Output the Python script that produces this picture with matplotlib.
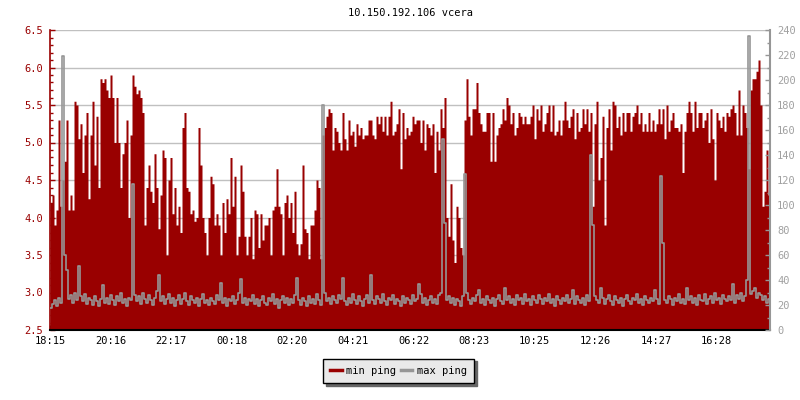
import matplotlib.pyplot as plt
import numpy as np
from matplotlib.lines import Line2D
from matplotlib.ticker import MultipleLocator

plt.rcParams['font.family'] = 'DejaVu Sans Mono'
plt.rcParams['font.size'] = 7.5

title = "10.150.192.106 vcera"
step_minutes = 4          # one sample every 4 minutes, 24 h total
tick_step = 121.2         # minutes between time labels
time_labels = ["18:15", "20:16", "22:17", "00:18", "02:20", "04:21",
               "06:22", "08:23", "10:25", "12:26", "14:27", "16:28"]

# min ping, left axis (ms)
min_ping = [
    4.2, 4.3, 3.9, 4.1, 5.3, 4.15, 4.5, 4.75, 5.3, 4.1, 4.3, 4.1, 5.55, 5.5, 5.05, 5.25, 4.6, 5.1, 5.4, 4.25,
    5.1, 5.55, 4.7, 5.35, 4.4, 5.85, 5.8, 5.85, 5.7, 5.6, 5.9, 5.6, 5.0, 5.6, 5.0, 4.4, 4.85, 5.0, 5.3, 4.0,
    5.1, 5.9, 5.75, 5.65, 5.7, 5.6, 5.4, 3.9, 4.4, 4.7, 4.35, 4.2, 4.85, 4.4, 3.85, 4.3, 4.9, 4.8, 3.5, 4.5,
    4.8, 4.05, 4.4, 3.9, 4.15, 3.8, 5.2, 5.4, 4.4, 4.35, 4.05, 4.1, 3.95, 4.0, 5.2, 4.7, 4.0, 3.8, 3.5, 4.0,
    4.55, 4.45, 3.9, 4.05, 3.9, 3.5, 4.2, 3.8, 4.25, 4.05, 4.8, 4.15, 4.55, 3.5, 3.75, 4.7, 4.35, 3.75, 3.5, 3.75,
    4.0, 3.45, 4.1, 4.05, 3.6, 4.05, 3.7, 3.9, 3.9, 4.0, 3.5, 4.1, 4.15, 4.65, 4.15, 4.05, 3.5, 4.2, 4.3, 4.0,
    4.2, 3.8, 4.35, 3.65, 3.5, 3.65, 4.7, 3.85, 3.8, 3.45, 3.9, 3.9, 4.1, 4.5, 4.4, 3.45, 5.1, 5.2, 5.35, 5.45,
    5.4, 4.9, 5.2, 5.15, 5.0, 4.9, 5.4, 5.05, 4.9, 5.3, 5.1, 5.15, 4.95, 5.25, 5.1, 5.2, 5.05, 5.1, 5.1, 5.3,
    5.3, 5.1, 5.05, 5.35, 5.25, 5.35, 5.15, 5.35, 5.1, 5.35, 5.55, 5.1, 5.15, 5.25, 5.45, 4.65, 5.4, 5.05, 5.2, 5.1,
    5.15, 5.35, 5.25, 5.3, 5.3, 5.0, 5.3, 4.9, 5.25, 5.2, 5.1, 5.25, 4.6, 5.15, 4.9, 5.45, 5.2, 5.6, 4.0, 3.75,
    4.45, 3.7, 3.4, 4.15, 4.0, 3.6, 3.5, 5.3, 5.85, 5.35, 5.1, 5.45, 5.45, 5.8, 5.4, 5.25, 5.15, 5.15, 5.4, 5.4,
    4.75, 5.4, 4.75, 5.1, 5.2, 5.25, 5.45, 5.3, 5.6, 5.5, 5.25, 5.4, 5.1, 5.2, 5.4, 5.35, 5.25, 5.35, 5.25, 5.25,
    5.35, 5.5, 5.05, 5.45, 5.3, 5.5, 5.15, 5.25, 5.4, 5.5, 5.15, 5.5, 5.1, 5.15, 5.3, 5.1, 5.3, 5.55, 5.3, 5.2,
    5.35, 5.45, 5.05, 5.4, 5.15, 5.2, 5.45, 5.25, 5.45, 5.15, 5.4, 4.15, 5.25, 5.55, 4.5, 4.8, 5.35, 3.9, 5.2, 5.45,
    4.9, 5.55, 5.5, 5.2, 5.35, 5.1, 5.4, 5.15, 5.4, 5.4, 5.15, 5.35, 5.4, 5.5, 5.25, 5.4, 5.15, 5.25, 5.15, 5.4,
    5.15, 5.3, 5.15, 5.25, 5.45, 5.25, 5.45, 5.05, 5.5, 5.15, 5.3, 5.4, 5.2, 5.2, 5.15, 5.25, 4.6, 5.15, 5.4, 5.55,
    5.4, 5.15, 5.55, 5.2, 5.4, 5.4, 5.2, 5.3, 5.4, 5.0, 5.45, 5.05, 4.5, 5.4, 5.3, 5.2, 5.35, 5.15, 5.4, 5.35,
    5.45, 5.5, 5.4, 5.1, 5.7, 5.1, 5.5, 5.4, 5.2, 4.65, 5.7, 5.85, 5.85, 5.95, 6.1, 5.5, 4.15, 4.35, 4.9, 4.3,
]

# max ping, right axis (ms)
max_ping = [
    18, 21, 24, 19, 26, 22, 219, 60, 48, 25, 28, 22, 30, 24, 51, 27, 23, 29, 21, 26,
    24, 20, 27, 23, 19, 25, 36, 22, 26, 21, 28, 24, 20, 27, 23, 30, 22, 25, 19, 26,
    24, 117, 28, 23, 27, 21, 30, 25, 22, 28, 24, 20, 26, 31, 44, 23, 27, 21, 25, 29,
    22, 26, 19, 24, 28, 21, 25, 30, 23, 20, 27, 24, 22, 26, 19, 25, 29, 22, 24, 20,
    26, 23, 21, 28, 24, 38, 22, 26, 19, 25, 23, 27, 21, 24, 30, 41, 22, 26, 20, 25,
    23, 28, 21, 25, 19, 24, 27, 22, 20, 26, 23, 29, 21, 25, 18, 24, 27, 22, 26, 20,
    25, 22, 28, 42, 24, 20, 26, 23, 19, 27, 22, 25, 21, 29, 24, 20, 180, 30, 23, 26,
    21, 27, 24, 22, 28, 25, 42, 23, 20, 26, 22, 29, 24, 21, 27, 23, 19, 25, 28, 22,
    44, 24, 21, 27, 25, 22, 29, 23, 20, 26, 24, 28, 21, 25, 23, 19, 27, 22, 26, 24,
    21, 28, 23, 25, 37, 29, 22, 26, 20, 24, 27, 22, 25, 21, 28, 30, 153, 86, 24, 27,
    22, 26, 20, 25, 23, 19, 27, 125, 30, 24, 21, 26, 23, 28, 32, 22, 25, 20, 27, 24,
    22, 26, 19, 25, 28, 23, 21, 34, 24, 27, 22, 25, 20, 28, 24, 26, 21, 29, 23, 25,
    20, 27, 24, 22, 28, 25, 21, 26, 23, 29, 22, 25, 19, 27, 24, 21, 26, 23, 28, 22,
    25, 32, 21, 27, 24, 22, 26, 20, 28, 23, 140, 84, 27, 24, 22, 34, 26, 21, 25, 28,
    23, 20, 27, 24, 22, 26, 19, 25, 28, 23, 21, 26, 24, 29, 22, 25, 20, 27, 24, 22,
    26, 23, 32, 25, 21, 123, 70, 24, 22, 27, 25, 20, 26, 23, 29, 22, 25, 21, 34, 24,
    27, 22, 26, 20, 28, 24, 23, 29, 21, 25, 27, 22, 30, 24, 26, 21, 28, 25, 23, 27,
    24, 37, 22, 28, 25, 30, 23, 27, 40, 235, 29, 31, 34, 26, 30, 28, 24, 27, 22, 25,
]

red = '#990000'
gray = '#969696'

x = np.arange(len(min_ping) + 1) * step_minutes
min_y = min_ping + min_ping[-1:]
max_y = max_ping + max_ping[-1:]

fig = plt.figure(figsize=(8, 4), dpi=100)
ax = fig.add_axes([0.0625, 0.175, 0.9, 0.75])
ax2 = ax.twinx()

ax.fill_between(x, min_y, 2.5, step='post', color=red, lw=0)
ax2.step(x, max_y, where='post', color=gray, lw=1.2)

ax.set_xlim(0, x[-1])
ax.set_ylim(2.5, 6.5)
ax2.set_ylim(0, 240)

ax.set_xticks(np.arange(len(time_labels)) * tick_step, time_labels)
ax.yaxis.set_major_locator(MultipleLocator(0.5))
ax.yaxis.set_minor_locator(MultipleLocator(0.1))
ax.yaxis.set_major_formatter('{x:.1f}')
ax2.yaxis.set_major_locator(MultipleLocator(20))
ax2.yaxis.set_minor_locator(MultipleLocator(10))

ax.tick_params(axis='x', direction='in', length=3.6, width=1, color='black', pad=4)
ax.tick_params(axis='y', which='major', direction='in', length=3.6, width=1,
               color=red, labelcolor=red, pad=5)
ax.tick_params(axis='y', which='minor', direction='in', length=2.3, width=1, color=red)
ax2.tick_params(axis='y', which='major', direction='in', length=3.6, width=1,
                color=gray, labelcolor='#a0a0a0', pad=5)
ax2.tick_params(axis='y', which='minor', direction='in', length=2.3, width=1, color=gray)

ax.grid(axis='y', color='#c0c0c0', lw=1)
ax.set_axisbelow(True)

for s in ['top', 'right']:
    ax.spines[s].set_visible(False)
for s in ['top', 'left', 'bottom']:
    ax2.spines[s].set_visible(False)
ax.spines['left'].set_color(red)
ax.spines['left'].set_linewidth(1.2)
ax.spines['bottom'].set_color('black')
ax.spines['bottom'].set_linewidth(1.5)
ax2.spines['right'].set_color(gray)
ax2.spines['right'].set_linewidth(1.5)

ax.set_title(title, pad=10, fontsize=7.5)

handles = [Line2D([], [], color=red, lw=2.5), Line2D([], [], color=gray, lw=2.5)]
leg = fig.legend(handles, ['min ping', 'max ping'], loc='center',
                 bbox_to_anchor=(0.498, 0.0725), ncol=2, fancybox=False,
                 edgecolor='black', facecolor='#e9e9e9', framealpha=1,
                 shadow={'color': '#666666', 'alpha': 1},
                 handlelength=1.1, handletextpad=0.4, columnspacing=0.5,
                 borderpad=0.7, fontsize=7.5)
leg.get_frame().set_linewidth(1)

fig.savefig('out.png', dpi=100)
